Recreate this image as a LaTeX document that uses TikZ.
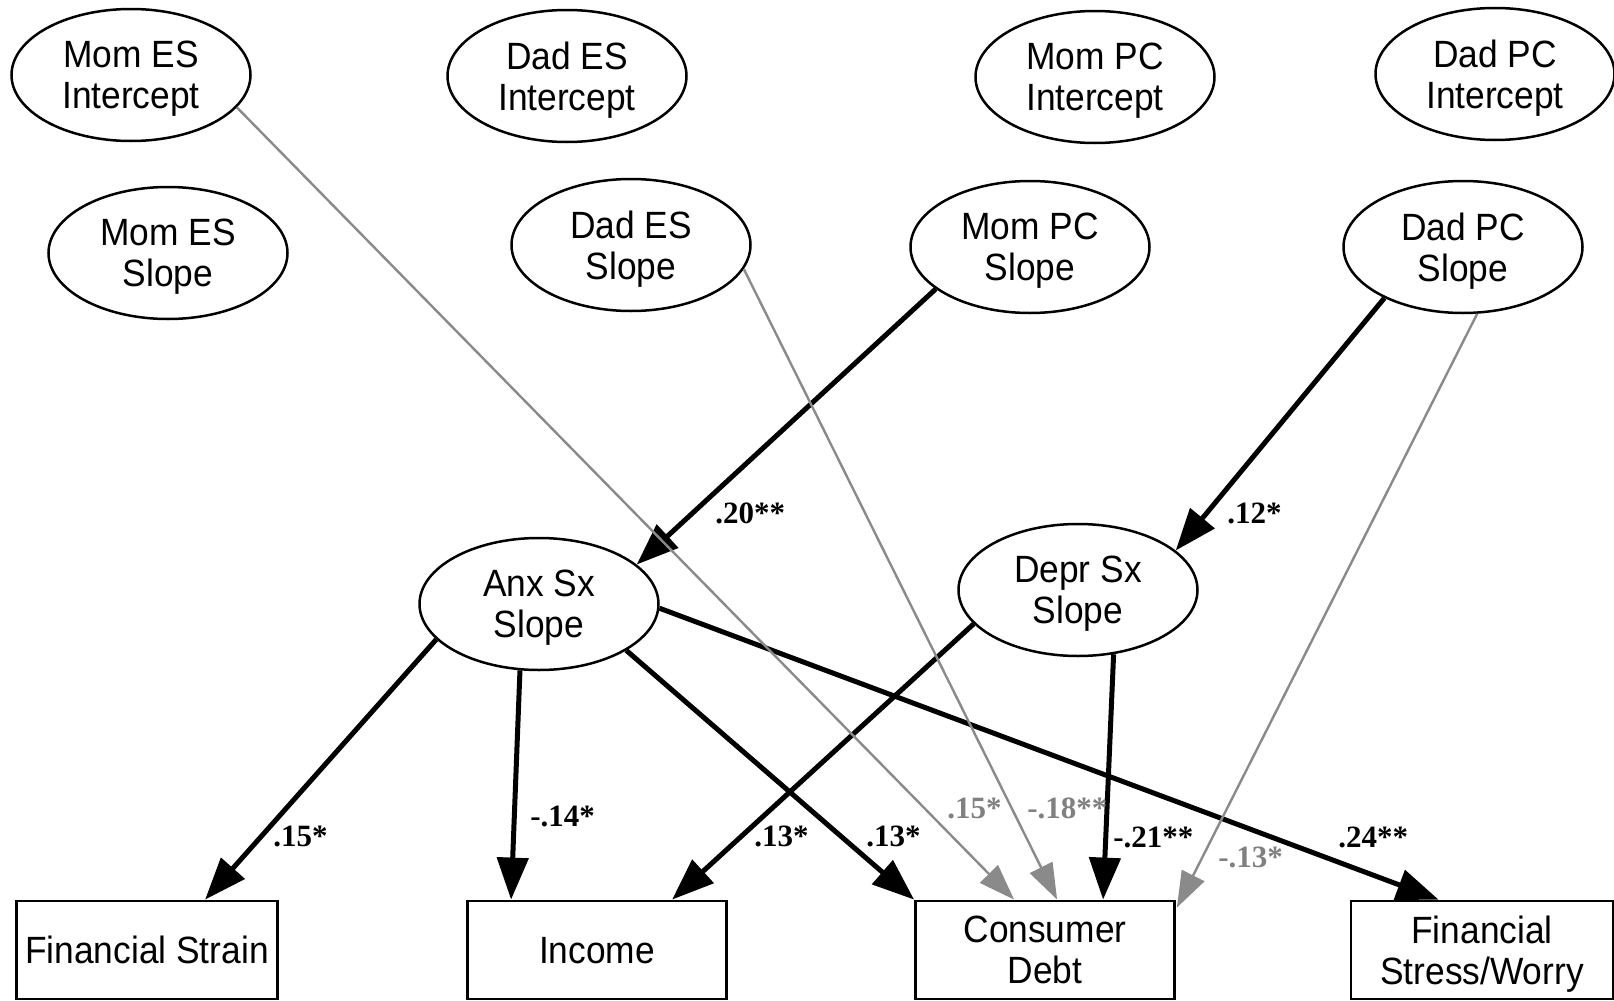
\documentclass[tikz,border=0pt]{standalone}
\usepackage{fontspec}
\newfontfamily\nodefont{Liberation Sans}[FakeStretch=0.93]
\newfontfamily\coeffont{Liberation Serif}
\usetikzlibrary{arrows.meta,calc,shapes.geometric}
\definecolor{pathgray}{RGB}{138,138,138}
\definecolor{labelgray}{RGB}{128,128,128}

\begin{document}
\begin{tikzpicture}[x=0.5pt,y=-0.5pt,
  latent/.style={ellipse,draw,line width=1.25pt,minimum width=119.5pt,
    minimum height=66pt,inner sep=0pt,align=center,text depth=0pt,
    font=\nodefont\fontsize{19}{20.5}\selectfont},
  observed/.style={rectangle,draw,line width=1.4pt,minimum width=129.5pt,
    minimum height=49pt,inner sep=0pt,align=center,text depth=0pt,
    font=\nodefont\fontsize{19}{20.5}\selectfont},
  strong/.style={line width=2.5pt,-{Triangle[length=21pt,width=15.5pt]}},
  weak/.style={pathgray,line width=1.2pt,-{Triangle[length=18pt,width=12.5pt]}},
  coef/.style={anchor=base west,inner sep=0pt,
    font=\coeffont\bfseries\fontsize{15.5}{15.5}\selectfont},
  coefgray/.style={coef,text=labelgray}]

\useasboundingbox (0,0) rectangle (1614,1001);

% parent and symptom growth factors
\node[latent] (mesi) at (131,75)  {Mom ES\\Intercept};
\node[latent] (mess) at (168,253) {Mom ES\\Slope};
\node[latent] (desi) at (567,76)  {Dad ES\\Intercept};
\node[latent] (dess) at (631,245) {Dad ES\\Slope};
\node[latent] (mpci) at (1095,77) {Mom PC\\Intercept};
\node[latent] (mpcs) at (1030,247) {Mom PC\\Slope};
\node[latent] (dpci) at (1495,74) {Dad PC\\Intercept};
\node[latent] (dpcs) at (1463,247) {Dad PC\\Slope};
\node[latent] (anx)  at (539,604) {Anx Sx\\Slope};
\node[latent] (depr) at (1078,590) {Depr Sx\\Slope};

% financial outcomes
\node[observed,minimum width=130.5pt] (fstrain) at (147,950) {Financial Strain};
\node[observed] (inc)  at (597,950)  {Income};
\node[observed] (debt) at (1045,950) {Consumer\\Debt};
\node[observed,minimum width=131pt] (fsw) at (1482,950) {Financial\\Stress/Worry};

% significant paths
\draw[strong] (mpcs.204) -- (anx.22);
\draw[strong] (dpcs.213) -- (depr.22);
\draw[strong] (anx.199) -- ($(fstrain.north west)+(190,0)$);
\draw[strong] (anx.254) -- ($(inc.north west)+(45,0)$);
\draw[strong] (anx.332) -- (debt.north west);
\draw[strong] (anx.358) -- ($(fsw.north west)+(89,0)$);
\draw[strong] (depr.198) -- ($(inc.north west)+(206,0)$);
\draw[strong] (depr.299) -- ($(debt.north west)+(189,0)$);
\draw[weak] (mesi.343) -- ($(debt.north west)+(100,0)$);
\draw[weak] (dess.348) -- ($(debt.north west)+(143,0)$);
\draw[weak] (dpcs.282) -- ($(debt.north east)+(1,8)$);

% path coefficients
\node[coef] (c1) at (715,523)  {.20**};
\node[coef] (c2) at (1227,523) {.12*};
\node[coef] (c3) at (273,846)  {.15*};
\node[coef] (c4) at (530,826)  {-.14*};
\node[coef] (c5) at (754,846)  {.13*};
\node[coef] (c6) at (866,846)  {.13*};
\node[coef] (c7) at (1113,847) {-.21**};
\node[coef] (c8) at (1338,847) {.24**};
\node[coefgray] (c9)  at (947,818)  {.15*};
\node[coefgray] (c10) at (1027,818) {-.18**};
\node[coefgray] (c11) at (1218,867) {-.13*};
\end{tikzpicture}
\end{document}
